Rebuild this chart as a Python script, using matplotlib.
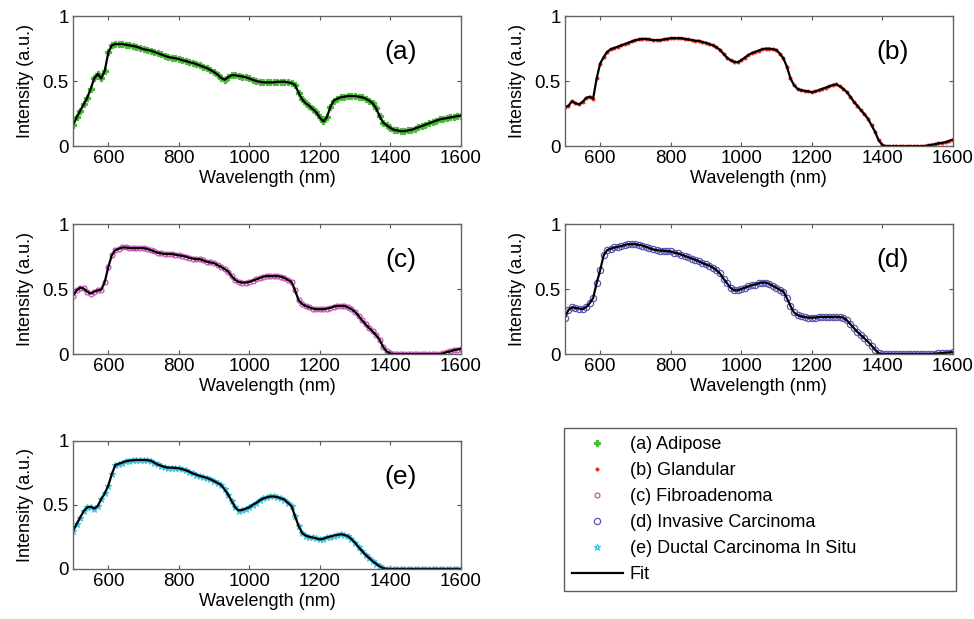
import numpy as np
import matplotlib
matplotlib.use("Agg")
import matplotlib.pyplot as plt
from matplotlib.lines import Line2D

plt.rcParams["font.family"] = ["Liberation Sans", "DejaVu Sans"]

# wavelength grid (nm), 500..1600 every 10 nm
wavelength = np.arange(500, 1601, 10)

adipose = [
    0.16, 0.22, 0.27, 0.32, 0.37, 0.44, 0.52, 0.555, 0.52, 0.58,
    0.72, 0.775, 0.785, 0.785, 0.785, 0.78, 0.775, 0.77, 0.765, 0.755,
    0.745, 0.74, 0.735, 0.725, 0.715, 0.705, 0.695, 0.685, 0.68, 0.675,
    0.67, 0.66, 0.655, 0.645, 0.64, 0.63, 0.62, 0.61, 0.60, 0.585,
    0.57, 0.55, 0.525, 0.51, 0.53, 0.545, 0.545, 0.54, 0.535, 0.53,
    0.52, 0.51, 0.50, 0.495, 0.49, 0.49, 0.49, 0.49, 0.495, 0.495,
    0.495, 0.49, 0.485, 0.47, 0.41, 0.36, 0.33, 0.31, 0.285, 0.26,
    0.22, 0.19, 0.22, 0.30, 0.35, 0.365, 0.375, 0.38, 0.385, 0.385,
    0.385, 0.38, 0.375, 0.365, 0.35, 0.33, 0.29, 0.23, 0.18, 0.16,
    0.14, 0.125, 0.12, 0.115, 0.115, 0.12, 0.125, 0.135, 0.145, 0.155,
    0.165, 0.175, 0.185, 0.195, 0.205, 0.21, 0.215, 0.22, 0.225, 0.23,
    0.235,
]
glandular = [
    0.30, 0.31, 0.345, 0.33, 0.32, 0.34, 0.37, 0.38, 0.365, 0.52,
    0.635, 0.685, 0.725, 0.745, 0.755, 0.765, 0.775, 0.785, 0.795, 0.805,
    0.815, 0.82, 0.825, 0.825, 0.82, 0.815, 0.815, 0.815, 0.82, 0.825,
    0.83, 0.83, 0.83, 0.83, 0.825, 0.82, 0.815, 0.81, 0.81, 0.80,
    0.795, 0.785, 0.775, 0.76, 0.74, 0.71, 0.68, 0.66, 0.65, 0.645,
    0.66, 0.68, 0.70, 0.715, 0.725, 0.735, 0.745, 0.75, 0.75, 0.745,
    0.74, 0.71, 0.675, 0.61, 0.52, 0.47, 0.44, 0.43, 0.425, 0.42,
    0.415, 0.42, 0.43, 0.44, 0.45, 0.46, 0.47, 0.475, 0.46, 0.44,
    0.415, 0.38, 0.34, 0.31, 0.275, 0.245, 0.21, 0.16, 0.11, 0.045,
    0.01, 0, 0, 0, 0, 0, 0, 0, 0, 0,
    0, 0, 0, 0.005, 0.01, 0.015, 0.02, 0.025, 0.03, 0.04,
    0.05,
]
fibroadenoma = [
    0.45, 0.49, 0.51, 0.505, 0.48, 0.465, 0.48, 0.49, 0.495, 0.555,
    0.67, 0.76, 0.80, 0.81, 0.82, 0.82, 0.815, 0.815, 0.815, 0.815,
    0.815, 0.81, 0.80, 0.79, 0.78, 0.775, 0.77, 0.77, 0.77, 0.765,
    0.76, 0.755, 0.75, 0.74, 0.735, 0.73, 0.73, 0.72, 0.71, 0.705,
    0.70, 0.685, 0.67, 0.655, 0.635, 0.60, 0.57, 0.555, 0.55, 0.55,
    0.555, 0.565, 0.575, 0.585, 0.595, 0.60, 0.60, 0.60, 0.60, 0.595,
    0.585, 0.57, 0.555, 0.49, 0.415, 0.385, 0.37, 0.36, 0.35, 0.345,
    0.345, 0.345, 0.35, 0.355, 0.365, 0.37, 0.37, 0.37, 0.36, 0.345,
    0.325, 0.295, 0.26, 0.23, 0.20, 0.175, 0.145, 0.11, 0.055, 0.02,
    0.005, 0, 0, 0, 0, 0, 0, 0, 0, 0,
    0, 0, 0, 0, 0, 0.005, 0.015, 0.02, 0.03, 0.035,
    0.04,
]
invasive = [
    0.28, 0.34, 0.36, 0.355, 0.35, 0.345, 0.36, 0.39, 0.43, 0.545,
    0.645, 0.76, 0.80, 0.81, 0.82, 0.825, 0.83, 0.84, 0.845, 0.845,
    0.845, 0.84, 0.835, 0.825, 0.815, 0.805, 0.80, 0.795, 0.795, 0.79,
    0.79, 0.78, 0.775, 0.765, 0.755, 0.745, 0.735, 0.725, 0.715, 0.70,
    0.69, 0.68, 0.665, 0.645, 0.62, 0.58, 0.545, 0.51, 0.49, 0.49,
    0.50, 0.51, 0.52, 0.53, 0.535, 0.545, 0.55, 0.55, 0.54, 0.525,
    0.51, 0.495, 0.48, 0.43, 0.37, 0.32, 0.30, 0.29, 0.285, 0.28,
    0.28, 0.28, 0.285, 0.285, 0.285, 0.285, 0.285, 0.285, 0.285, 0.28,
    0.26, 0.23, 0.20, 0.17, 0.145, 0.12, 0.095, 0.065, 0.035, 0.005,
    0, 0, 0, 0, 0, 0, 0, 0, 0, 0,
    0, 0, 0, 0, 0, 0.003, 0.005, 0.008, 0.01, 0.012,
    0.015,
]
dcis = [
    0.295, 0.35, 0.40, 0.45, 0.48, 0.485, 0.47, 0.49, 0.545, 0.59,
    0.65, 0.74, 0.81, 0.82, 0.83, 0.84, 0.845, 0.848, 0.85, 0.85,
    0.85, 0.848, 0.845, 0.83, 0.815, 0.805, 0.795, 0.79, 0.79, 0.788,
    0.785, 0.778, 0.77, 0.758, 0.745, 0.735, 0.725, 0.718, 0.71, 0.698,
    0.685, 0.67, 0.655, 0.62, 0.58, 0.53, 0.48, 0.455, 0.46, 0.47,
    0.48, 0.50, 0.515, 0.535, 0.55, 0.558, 0.565, 0.565, 0.56, 0.55,
    0.54, 0.515, 0.49, 0.41, 0.335, 0.28, 0.26, 0.25, 0.245, 0.238,
    0.23, 0.235, 0.245, 0.252, 0.26, 0.265, 0.27, 0.265, 0.255, 0.232,
    0.205, 0.17, 0.14, 0.11, 0.085, 0.06, 0.04, 0.02, 0.005, 0,
    0, 0, 0, 0, 0, 0, 0, 0, 0, 0,
    0, 0, 0, 0, 0, 0, 0, 0, 0, 0,
    0,
]

panel_tags = ["(a)", "(b)", "(c)", "(d)", "(e)"]
legend_names = ["(a) Adipose", "(b) Glandular", "(c) Fibroadenoma",
                "(d) Invasive Carcinoma", "(e) Ductal Carcinoma In Situ"]
series = [adipose, glandular, fibroadenoma, invasive, dcis]

# marker style per tissue type
styles = [
    dict(marker="P", color="#4cbb3c", ms=4.5, mfc="#4cbb3c"),
    dict(marker=".", color="#e8321e", ms=4, mfc="#e8321e"),
    dict(marker="o", color="#c84fb4", ms=3.5, mfc="none"),
    dict(marker="o", color="#5a58b8", ms=4.5, mfc="none"),
    dict(marker="*", color="#3cc4e0", ms=5, mfc="none"),
]

# axes rectangles in figure fractions [left, bottom, width, height]
rects = [
    [0.075, 0.764, 0.398, 0.210],
    [0.580, 0.764, 0.398, 0.210],
    [0.075, 0.428, 0.398, 0.210],
    [0.580, 0.428, 0.398, 0.210],
    [0.075, 0.081, 0.398, 0.207],
]

fig = plt.figure(figsize=(9.74, 6.19), dpi=100)

for rect, vals, tag, st in zip(rects, series, panel_tags, styles):
    ax = fig.add_axes(rect)
    ax.plot(wavelength, vals, linestyle="none", marker=st["marker"],
            color=st["color"], ms=st["ms"], mfc=st["mfc"], mew=0.9)
    ax.plot(wavelength, vals, color="black", lw=1.6)
    ax.set_xlim(500, 1600)
    ax.set_ylim(0, 1)
    ax.set_xticks([600, 800, 1000, 1200, 1400, 1600])
    ax.set_yticks([0, 0.5, 1])
    ax.set_yticklabels(["0", "0.5", "1"])
    ax.tick_params(direction="in", top=True, right=True, length=3,
                   labelsize=13.5, pad=3, color="#555555")
    for sp in ax.spines.values():
        sp.set_color("#666666")
        sp.set_linewidth(1.0)
    ax.set_xlabel("Wavelength (nm)", fontsize=13, labelpad=2)
    ax.set_ylabel("Intensity (a.u.)", fontsize=13, labelpad=6)
    ax.text(0.845, 0.72, tag, transform=ax.transAxes, fontsize=19,
            ha="center", va="center")

handles = [Line2D([], [], linestyle="none", marker=st["marker"], color=st["color"],
                  ms=st["ms"], mfc=st["mfc"], mew=0.9) for st in styles]
handles.append(Line2D([], [], color="black", lw=1.6))
labels = legend_names + ["Fit"]

leg = fig.legend(handles, labels, loc="upper left",
                 bbox_to_anchor=(0.579, 0.044, 0.403, 0.265), mode="expand",
                 fontsize=13, frameon=True, fancybox=False, handlelength=2.8,
                 handletextpad=0.4, labelspacing=0.5, borderpad=0.45,
                 borderaxespad=0)
leg.get_frame().set_edgecolor("#333333")
leg.get_frame().set_linewidth(1.0)

fig.savefig("out.png", dpi=100)
